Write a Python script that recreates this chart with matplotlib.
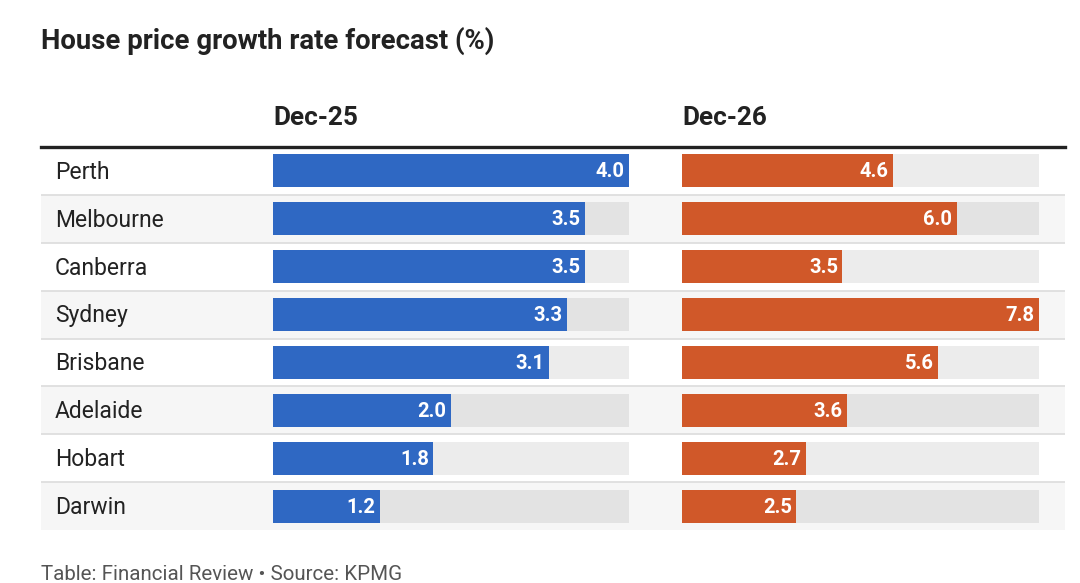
import numpy as np
import matplotlib
matplotlib.use('Agg')
import matplotlib.pyplot as plt

plt.rcParams['font.family'] = ['Roboto', 'DejaVu Sans']

#===================================================================================
#                         data
#===================================================================================
cities  = ['Perth', 'Melbourne', 'Canberra', 'Sydney', 'Brisbane', 'Adelaide', 'Hobart', 'Darwin']
dec25   = [4.0, 3.5, 3.5, 3.3, 3.1, 2.0, 1.8, 1.2]
dec26   = [4.6, 6.0, 3.5, 7.8, 5.6, 3.6, 2.7, 2.5]
columns = ['Dec-25', 'Dec-26']
title   = 'House price growth rate forecast (%)'
footer  = 'Table: Financial Review \u2022 Source: KPMG'

#===================================================================================
#                         layout (pixels of a 1080x583 canvas)
#===================================================================================
W, H      = 1080, 583
tab_x0    = 41
tab_x1    = 1065
row_top   = 147
row_bot   = 530
c_blue    = '#2f68c3'
c_orange  = '#d05829'
c_text    = '#222222'

fig = plt.figure(figsize=(W/100, H/100), dpi=100)
fig.patch.set_facecolor('white')

bot = 1 - row_bot/H
hgt = (row_bot - row_top)/H
n   = len(cities)
y   = np.arange(n)

# row background / separators
axb = fig.add_axes([tab_x0/W, bot, (tab_x1 - tab_x0)/W, hgt])
axb.set_xlim(0, 1)
axb.set_ylim(n - 0.5, -0.5)
for i in y:
    if i % 2 == 1:
        axb.axhspan(i - 0.5, i + 0.5, color='#f6f6f6', lw=0)
    if i > 0:
        axb.axhline(i - 0.5, color='#dedede', lw=1.3)
    axb.text((55 - tab_x0)/(tab_x1 - tab_x0), i + 0.03, cities[i], fontsize=16.5,
             color=c_text, va='center', ha='left')
axb.axhline(-0.5, color='#222222', lw=2.4, clip_on=False)
axb.axis('off')

# bar panels
panels = [(273, 629, dec25, c_blue), (682, 1039, dec26, c_orange)]
for (x0, x1, vals, col), name in zip(panels, columns):
    ax = fig.add_axes([x0/W, bot, (x1 - x0)/W, hgt])
    vmax = max(vals)
    ax.barh(y, [vmax]*n, height=0.69, color='black', alpha=0.075, lw=0)
    ax.barh(y, vals, height=0.69, color=col, lw=0)
    for yi, v in zip(y, vals):
        ax.text(v - vmax*0.012, yi + 0.02, f'{v:.1f}', color='white', fontsize=14.5,
                fontweight='bold', ha='right', va='center')
    ax.set_xlim(0, vmax)
    ax.set_ylim(n - 0.5, -0.5)
    ax.axis('off')
    ax.text(0, 1 + (row_top - 118)/(row_bot - row_top), name, transform=ax.transAxes,
            fontsize=18.8, fontweight='bold', color=c_text, ha='left', va='center')

fig.text(tab_x0/W, 1 - 41/H, title, fontsize=19.8, fontweight='bold', color=c_text,
         ha='left', va='center')
fig.text(tab_x0/W, 1 - 565/H, footer, fontsize=14.8, color='#555555',
         ha='left', va='top')

fig.savefig('out.png', dpi=100, facecolor='white')
